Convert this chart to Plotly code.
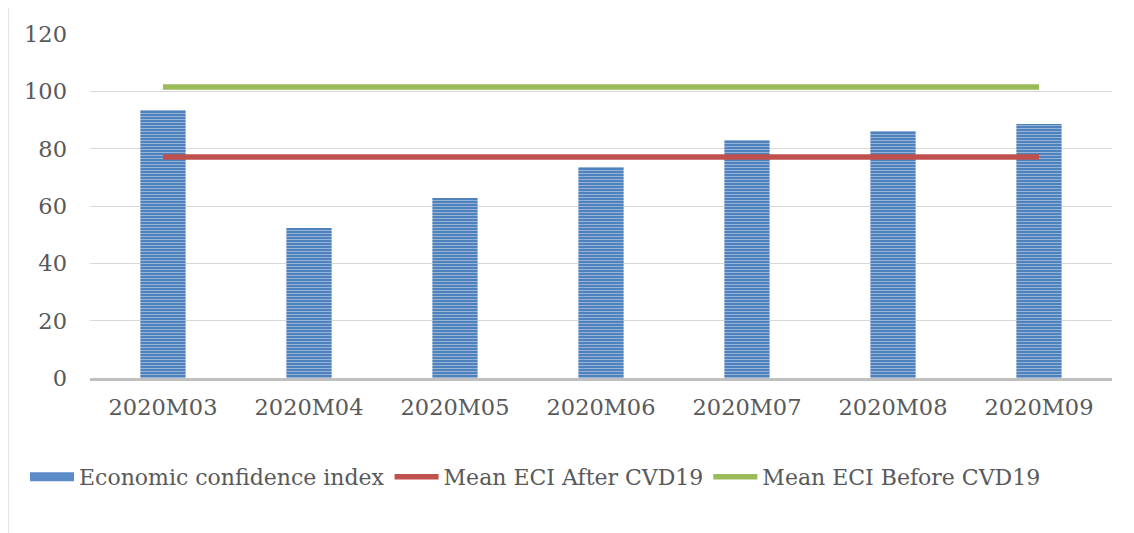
import plotly.graph_objects as go

# data
months = ["2020M03", "2020M04", "2020M05", "2020M06", "2020M07", "2020M08", "2020M09"]
eci = [93.5, 52.3, 62.8, 73.6, 83.0, 86.2, 88.6]
mean_after = [77.1] * len(months)
mean_before = [101.5] * len(months)

font_family = "DejaVu Serif"
grey_text = "#595959"
fs = 22.5

fig = go.Figure()

# bars with horizontal stripe fill
fig.add_trace(go.Bar(
    x=months, y=eci, name="Economic confidence index", showlegend=False,
    legendgroup="eci",
    marker=dict(color="#4f81bd", line=dict(width=0),
                pattern=dict(shape="-", fgcolor="#dce6f2", bgcolor="#4f81bd",
                             size=3, solidity=0.35)),
))
# legend stand-in: wide blue swatch like the original
fig.add_trace(go.Scatter(
    x=[None], y=[None], name="Economic confidence index", mode="lines",
    legendgroup="eci", line=dict(color="#5b8bc9", width=9),
))

fig.add_trace(go.Scatter(
    x=months, y=mean_after, name="Mean ECI After CVD19", mode="lines",
    line=dict(color="#c0504d", width=5.5),
))
fig.add_trace(go.Scatter(
    x=months, y=mean_before, name="Mean ECI Before CVD19", mode="lines",
    line=dict(color="#9bbb59", width=5.5),
))

fig.update_layout(
    width=1134, height=533,
    margin=dict(l=82, r=30, t=26, b=163),
    paper_bgcolor="white", plot_bgcolor="white",
    font=dict(family=font_family, size=fs, color=grey_text),
    bargap=0.69,
    showlegend=True,
    legend=dict(orientation="h", x=0.015, xref="container", y=0.12, yref="container",
                yanchor="middle", xanchor="left", itemwidth=44,
                font=dict(size=22, color=grey_text),
                traceorder="normal", tracegroupgap=0),
)

fig.update_xaxes(showgrid=False, showline=True, linecolor="#bfbfbf", linewidth=2.5,
                 ticks="", ticklabelstandoff=7, tickfont=dict(size=fs, color=grey_text))
fig.update_yaxes(range=[0, 120], dtick=20, showgrid=True, gridcolor="#d9d9d9",
                 gridwidth=1, zeroline=False, showline=False, ticks="",
                 ticklabelstandoff=22, tickfont=dict(size=fs, color=grey_text))

# light outer border of the chart area
fig.add_shape(type="rect", xref="paper", yref="paper",
              x0=-82 / 1022, x1=1.05, y0=-170 / 344, y1=1 + 29 / 344,
              line=dict(color="#d9d9d9", width=1.5), fillcolor="rgba(0,0,0,0)", layer="below")

fig.write_html("out.html")
